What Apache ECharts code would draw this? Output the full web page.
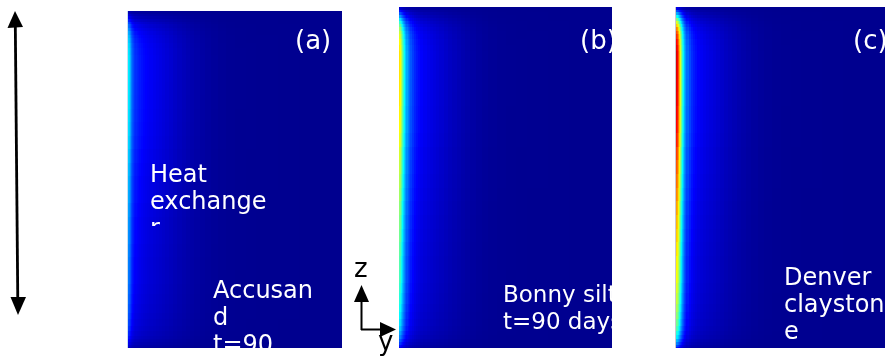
<!DOCTYPE html>
<html>
<head>
<meta charset="utf-8">
<script src="https://cdn.jsdelivr.net/npm/echarts@6/dist/echarts.min.js"></script>
<style>
  html, body { margin: 0; padding: 0; background: #fff; }
  #chart { width: 885px; height: 358px; }
</style>
</head>
<body>
<div id="chart"></div>
<script>
// distance from the heat exchanger wall (fraction of panel width), cell edges
const xEdges = [0, 0.005, 0.01, 0.015, 0.02, 0.025, 0.03, 0.035, 0.04, 0.045, 0.05, 0.06, 0.07, 0.08,
  0.09, 0.1, 0.115, 0.13, 0.145, 0.16, 0.175, 0.19, 0.21, 0.23, 0.25, 0.27, 0.29, 0.31, 0.335, 0.36,
  0.39, 0.42, 0.46, 0.5, 0.55, 0.6, 0.7, 0.8, 0.9, 1.0]
// depth (fraction of panel height, top = 0), cell edges
const zEdges = [0, 0.008, 0.016, 0.024, 0.032, 0.04, 0.05, 0.06, 0.07, 0.08, 0.095, 0.11, 0.13, 0.15,
  0.18, 0.21, 0.25, 0.29, 0.33, 0.37, 0.41, 0.45, 0.49, 0.53, 0.57, 0.61, 0.65, 0.69, 0.73, 0.77,
  0.81, 0.84, 0.87, 0.895, 0.915, 0.935, 0.95, 0.963, 0.974, 0.983, 0.99, 0.996, 1]
// relative strength of the wall heating along depth, one per row
const depthFactor = [0.11, 0.22, 0.32, 0.43, 0.55, 0.65, 0.74, 0.82, 0.88, 0.92, 0.96, 0.985, 1.0, 1.0,
  1.0, 0.995, 0.99, 0.975, 0.96, 0.935, 0.9, 0.87, 0.845, 0.82, 0.79, 0.765, 0.745, 0.72, 0.7, 0.68,
  0.655, 0.63, 0.6, 0.57, 0.54, 0.5, 0.45, 0.4, 0.34, 0.28, 0.22, 0.16]
// normalised temperature rise across the soil, one per column
const tempAccusand = [0.36, 0.34, 0.3, 0.25, 0.22, 0.2, 0.18, 0.17, 0.162, 0.156, 0.148, 0.14, 0.132,
  0.126, 0.12, 0.114, 0.107, 0.1, 0.094, 0.087, 0.08, 0.072, 0.063, 0.055, 0.048, 0.041, 0.035, 0.029,
  0.023, 0.018, 0.013, 0.009, 0.006, 0.004, 0.003, 0.002, 0.001, 0, 0]
const tempBonny = [0.65, 0.63, 0.56, 0.49, 0.43, 0.38, 0.33, 0.29, 0.26, 0.235, 0.21, 0.185, 0.162,
  0.146, 0.135, 0.124, 0.113, 0.104, 0.097, 0.09, 0.083, 0.075, 0.066, 0.057, 0.05, 0.043, 0.036, 0.03,
  0.024, 0.018, 0.013, 0.009, 0.006, 0.004, 0.003, 0.002, 0.001, 0, 0]
const tempDenver = [0.91, 0.88, 0.8, 0.7, 0.6, 0.51, 0.43, 0.37, 0.31, 0.27, 0.23, 0.195, 0.168,
  0.15, 0.137, 0.125, 0.114, 0.105, 0.097, 0.09, 0.083, 0.075, 0.066, 0.057, 0.05, 0.043, 0.036, 0.03,
  0.024, 0.018, 0.013, 0.009, 0.006, 0.004, 0.003, 0.002, 0.001, 0, 0]

const panelNames = ['(a)', '(b)', '(c)']
const heatLabel = 'Heat\nexchange\nr'
const soilLabels = ['Accusan\nd\nt=90\ndays', 'Bonny silt\nt=90 days', 'Denver\nclayston\ne\nt=90\ndays']
const jet = ['#00008f', '#0000ff', '#0080ff', '#00ffff', '#80ff80', '#ffff00', '#ff8000', '#ff0000', '#800000']

const FONT = 'DejaVu Sans'
const grids = [
  { left: 128, top: 11, width: 214, height: 337 },
  { left: 399, top: 7, width: 213, height: 341 },
  { left: 676, top: 7, width: 214, height: 341 }
]
// label offsets inside each panel, and soil label font size
const labelPos = [
  { name: [167, 18], soil: [85, 267], heat: [22, 151], size: 24 },
  { name: [181, 22], soil: [104, 276], size: 23 },
  { name: [177, 22], soil: [108, 258], size: 24 }
]

function cells(temp) {
  const out = []
  for (let j = 0; j < depthFactor.length; j++) {
    for (let i = 0; i < temp.length; i++) {
      out.push([xEdges[i], xEdges[i + 1], zEdges[j], zEdges[j + 1], temp[i] * depthFactor[j]])
    }
  }
  return out
}

function renderCell(params, api) {
  const p0 = api.coord([api.value(0), api.value(2)])
  const p1 = api.coord([api.value(1), api.value(3)])
  const x0 = Math.round(p0[0]), x1 = Math.round(p1[0])
  const y0 = Math.round(p0[1]), y1 = Math.round(p1[1])
  return {
    type: 'rect',
    shape: { x: x0, y: y0, width: x1 - x0, height: y1 - y0 },
    style: { fill: api.visual('color'), stroke: null, lineWidth: 0 }
  }
}

function labelText(text, pos, size, extra) {
  return Object.assign({
    type: 'text', x: pos[0], y: pos[1],
    style: {
      text: text, fill: '#fff', fontSize: size, fontFamily: FONT,
      lineHeight: size > 24 ? size : 27, verticalAlign: 'top'
    }
  }, extra || {})
}

function labelRenderer(k) {
  return function (params) {
    const cs = params.coordSys
    const lp = labelPos[k]
    const children = [
      labelText(panelNames[k], [cs.x + lp.name[0], cs.y + lp.name[1]], 26),
      labelText(soilLabels[k], [cs.x + lp.soil[0], cs.y + lp.soil[1]], lp.size)
    ]
    if (lp.heat) {
      children.push(labelText(heatLabel, [cs.x + lp.heat[0], cs.y + lp.heat[1]], 24,
        { clipPath: { type: 'rect', shape: { x: -5, y: -5, width: 160, height: 69 } } }))
    }
    return { type: 'group', children: children }
  }
}

const temps = [tempAccusand, tempBonny, tempDenver]
const series = []
temps.forEach(function (t, k) {
  series.push({
    type: 'custom', name: 'temp' + k, xAxisIndex: k, yAxisIndex: k, clip: true,
    renderItem: renderCell, encode: { x: [0, 1], y: [2, 3] }, data: cells(t), silent: true
  })
})
temps.forEach(function (t, k) {
  series.push({
    type: 'custom', name: 'label' + k, xAxisIndex: k, yAxisIndex: k, clip: true,
    renderItem: labelRenderer(k), data: [[0.5, 0.5]], silent: true
  })
})

const chart = echarts.init(document.getElementById('chart'), null, { renderer: 'canvas' })
chart.setOption({
  animation: false,
  backgroundColor: '#fff',
  grid: grids,
  xAxis: grids.map(function (g, k) { return { type: 'value', gridIndex: k, min: 0, max: 1, show: false } }),
  yAxis: grids.map(function (g, k) { return { type: 'value', gridIndex: k, min: 0, max: 1, inverse: true, show: false } }),
  visualMap: {
    type: 'continuous', show: false, min: 0, max: 1, dimension: 4,
    seriesIndex: [0, 1, 2], inRange: { color: jet }
  },
  series: series,
  graphic: [
    // thin light wall outlines on panels (a) and (c)
    { type: 'rect', shape: { x: 127, y: 11, width: 1, height: 337 }, style: { fill: '#c9dcf0' } },
    { type: 'rect', shape: { x: 675, y: 7, width: 1, height: 341 }, style: { fill: '#c8c8d0' } },
    // vertical double arrow on the left
    { type: 'line', shape: { x1: 15.3, y1: 24, x2: 17.8, y2: 302 }, style: { stroke: '#000', lineWidth: 2.8 } },
    { type: 'polygon', shape: { points: [[15, 11], [7.5, 28], [23, 27]] }, style: { fill: '#000' } },
    { type: 'polygon', shape: { points: [[18, 315], [10.5, 297], [26, 297]] }, style: { fill: '#000' } },
    // z / y axis triad
    { type: 'line', shape: { x1: 361.5, y1: 300, x2: 361.5, y2: 330 }, style: { stroke: '#000', lineWidth: 2 } },
    { type: 'polygon', shape: { points: [[361.5, 285], [354, 302], [369, 302]] }, style: { fill: '#000' } },
    { type: 'line', shape: { x1: 361, y1: 329.5, x2: 382, y2: 329.5 }, style: { stroke: '#000', lineWidth: 2 } },
    { type: 'polygon', shape: { points: [[396, 329.5], [380, 322], [380, 337]] }, style: { fill: '#000' } },
    { type: 'text', x: 354, y: 257, style: { text: 'z', fill: '#000', fontSize: 26, fontFamily: FONT, verticalAlign: 'top', lineHeight: 26 } },
    { type: 'text', x: 378, y: 330, style: { text: 'y', fill: '#000', fontSize: 26, fontFamily: FONT, verticalAlign: 'top', lineHeight: 26 } }
  ]
})
</script>
</body>
</html>
